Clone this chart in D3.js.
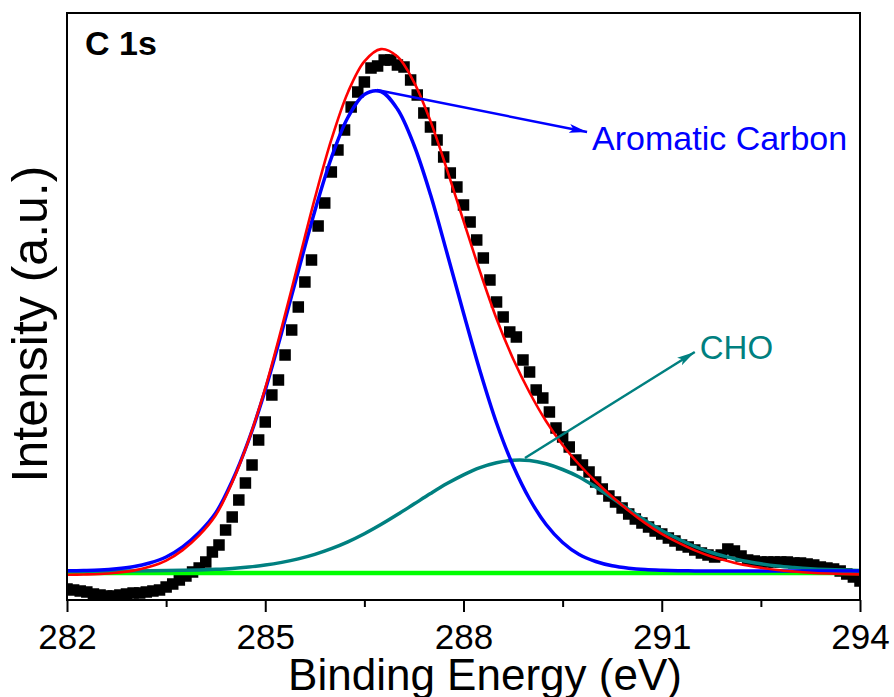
<!DOCTYPE html>
<html>
<head>
<meta charset="utf-8">
<script src="https://cdn.jsdelivr.net/npm/d3@7/dist/d3.min.js"></script>
<style>
  body { margin: 0; background: #fff; }
  svg { display: block; font-family: "Liberation Sans", Arial, sans-serif; }
</style>
</head>
<body>
<svg id="canvas" width="894" height="697"></svg>
<script>
// measured spectrum, one point every 0.1 eV from 282 eV
const dataStart = 282;
const dataStep = 0.1;
const rawIntensity = [
  840, 830, 820, 810, 790, 780, 770, 770, 780, 790,
  800, 800, 810, 820, 830, 860, 890, 930, 970, 1010,
  1050, 1110, 1210, 1280, 1430, 1560, 1730, 1900, 2080, 2330,
  2510, 2780, 2930, 3180, 3430, 3660, 3910, 4130, 4470, 4700,
  5010, 5230, 5430, 5660, 5810, 5910, 6050, 6070, 6130, 6130,
  6080, 6060, 5930, 5780, 5600, 5460, 5330, 5160, 5000, 4860,
  4680, 4510, 4330, 4150, 3930, 3710, 3560, 3410, 3360, 3130,
  3010, 2830, 2750, 2610, 2450, 2360, 2260, 2130, 2080, 2010,
  1910, 1840, 1770, 1710, 1650, 1590, 1540, 1500, 1460, 1420,
  1390, 1350, 1320, 1280, 1260, 1230, 1200, 1180, 1160, 1180,
  1240, 1220, 1170, 1130, 1120, 1110, 1110, 1110, 1110, 1110,
  1100, 1100, 1090, 1080, 1060, 1050, 1040, 1020, 990, 960, 920
];

// fitted curves, one point every 0.25 eV from 282 eV
const fitStep = 0.25;
const aromaticFit = [
  1022, 1025, 1030, 1042, 1063, 1100, 1160, 1262, 1405, 1600,
  1920, 2330, 2830, 3410, 4020, 4620, 5150, 5555, 5785, 5815,
  5640, 5280, 4785, 4200, 3600, 3020, 2500, 2075, 1740, 1485,
  1305, 1185, 1115, 1072, 1048, 1034, 1027, 1023, 1021, 1020,
  1020, 1020, 1020, 1020, 1020, 1020, 1020, 1020, 1020
];
const choFit = [
  1020, 1020, 1020, 1021, 1021, 1022, 1024, 1027, 1031, 1037,
  1046, 1060, 1079, 1106, 1141, 1186, 1243, 1311, 1392, 1484,
  1584, 1689, 1794, 1894, 1982, 2054, 2103, 2128, 2125, 2092,
  2035, 1960, 1860, 1750, 1635, 1525, 1425, 1340, 1265, 1205,
  1160, 1120, 1092, 1070, 1055, 1043, 1035, 1030, 1026
];
const envelopeFit = [
  982, 985, 990, 1003, 1024, 1062, 1124, 1229, 1376, 1577,
  1906, 2330, 2849, 3456, 4101, 4746, 5333, 5806, 6117, 6239,
  6164, 5909, 5519, 5034, 4522, 4014, 3543, 3143, 2805, 2517,
  2280, 2085, 1915, 1762, 1623, 1499, 1392, 1303, 1226, 1165,
  1120, 1080, 1052, 1030, 1015, 1003, 995, 990, 986
];
const backgroundEnergy = [282, 294];
const backgroundIntensity = [1000, 1000];

const xMajorTicks = [282, 285, 288, 291, 294];
const xMinorTicks = [283.5, 286.5, 289.5, 292.5];

// annotation arrows: [startEnergy, startIntensity, endEnergy, endIntensity]
const aromaticArrow = [286.69, 5830, 289.87, 5410];
const choArrow = [288.93, 2150, 291.5, 3210];
const aromaticLabel = "Aromatic Carbon";
const choLabel = "CHO";
const panelLabel = "C 1s";

let plot = { left: 67, right: 860, top: 13, bottom: 600 };

let canvas = d3.select("#canvas");

let xScale = d3.scaleLinear().domain([282, 294]).range([plot.left, plot.right]);
let yScale = d3.scaleLinear().domain([730, 6600]).range([plot.bottom, plot.top]);

let defs = canvas.append("defs");
defs.append("clipPath").attr("id", "plotClip")
  .append("rect")
  .attr("x", plot.left).attr("y", plot.top)
  .attr("width", plot.right - plot.left).attr("height", plot.bottom - plot.top);

let drawArea = canvas.append("g").attr("clip-path", "url(#plotClip)");

// raw data squares
let squareSize = 11.5;
drawArea.append("g").selectAll("rect")
  .data(rawIntensity)
  .enter()
  .append("rect")
  .attr("x", (d, i) => xScale(dataStart + i * dataStep) - squareSize / 2)
  .attr("y", (d) => yScale(d) - squareSize / 2)
  .attr("width", squareSize)
  .attr("height", squareSize)
  .attr("fill", "#000");

let fitLine = d3.line()
  .x((d, i) => xScale(dataStart + i * fitStep))
  .y((d) => yScale(d))
  .curve(d3.curveCatmullRom);

drawArea.append("path")
  .attr("d", d3.line().x((d, i) => xScale(backgroundEnergy[i])).y((d) => yScale(d))(backgroundIntensity))
  .attr("fill", "none").attr("stroke", "#00ff00").attr("stroke-width", 4.5);

drawArea.append("path")
  .attr("d", fitLine(choFit))
  .attr("fill", "none").attr("stroke", "#008080").attr("stroke-width", 3.5);

drawArea.append("path")
  .attr("d", fitLine(aromaticFit))
  .attr("fill", "none").attr("stroke", "#0000ff").attr("stroke-width", 3.5);

drawArea.append("path")
  .attr("d", fitLine(envelopeFit))
  .attr("fill", "none").attr("stroke", "#ff0000").attr("stroke-width", 2.6);

// arrows
let addMarker = (id, color) => {
  defs.append("marker")
    .attr("id", id)
    .attr("markerUnits", "userSpaceOnUse")
    .attr("viewBox", "0 0 18 10")
    .attr("refX", 18).attr("refY", 5)
    .attr("markerWidth", 18).attr("markerHeight", 10)
    .attr("orient", "auto")
    .append("path")
    .attr("d", "M0,0.5 L18,5 L0,9.5 L4,5 Z")
    .attr("fill", color);
};
addMarker("arrowBlue", "#0000ff");
addMarker("arrowTeal", "#008080");

let drawArrow = (a, color, marker) => {
  canvas.append("line")
    .attr("x1", xScale(a[0])).attr("y1", yScale(a[1]))
    .attr("x2", xScale(a[2])).attr("y2", yScale(a[3]))
    .attr("stroke", color).attr("stroke-width", 2.5)
    .attr("marker-end", "url(#" + marker + ")");
};
drawArrow(aromaticArrow, "#0000ff", "arrowBlue");
drawArrow(choArrow, "#008080", "arrowTeal");

canvas.append("text")
  .attr("x", xScale(aromaticArrow[2]) + 5)
  .attr("y", yScale(aromaticArrow[3]) + 18)
  .attr("font-size", "34px")
  .attr("fill", "#0000ff")
  .text(aromaticLabel);

canvas.append("text")
  .attr("x", xScale(choArrow[2]) + 5)
  .attr("y", yScale(choArrow[3]) + 7)
  .attr("font-size", "33px")
  .attr("fill", "#008080")
  .text(choLabel);

// frame
canvas.append("rect")
  .attr("x", plot.left).attr("y", plot.top)
  .attr("width", plot.right - plot.left).attr("height", plot.bottom - plot.top)
  .attr("fill", "none").attr("stroke", "#000").attr("stroke-width", 2);

// x axis
let xAxis = d3.axisBottom(xScale)
  .tickValues(xMajorTicks)
  .tickSize(12)
  .tickPadding(12)
  .tickFormat(d3.format("d"));

let xAxisG = canvas.append("g")
  .attr("transform", "translate(0," + plot.bottom + ")")
  .call(xAxis);
xAxisG.select(".domain").remove();
xAxisG.selectAll("line").attr("stroke-width", 2);
xAxisG.selectAll("text").attr("font-size", "35px").attr("font-family", "Liberation Sans, Arial, sans-serif");

let xMinorG = canvas.append("g")
  .attr("transform", "translate(0," + plot.bottom + ")")
  .call(d3.axisBottom(xScale).tickValues(xMinorTicks).tickSize(7).tickFormat(""));
xMinorG.select(".domain").remove();
xMinorG.selectAll("line").attr("stroke-width", 2);

// titles
canvas.append("text")
  .attr("x", 485)
  .attr("y", 690)
  .attr("text-anchor", "middle")
  .attr("font-size", "44px")
  .text("Binding Energy (eV)");

canvas.append("text")
  .attr("transform", "translate(47,324) rotate(-90)")
  .attr("text-anchor", "middle")
  .attr("font-size", "50px")
  .text("Intensity (a.u.)");

canvas.append("text")
  .attr("x", plot.left + 18)
  .attr("y", plot.top + 42)
  .attr("font-size", "34px")
  .attr("font-weight", "bold")
  .text(panelLabel);
</script>
</body>
</html>
